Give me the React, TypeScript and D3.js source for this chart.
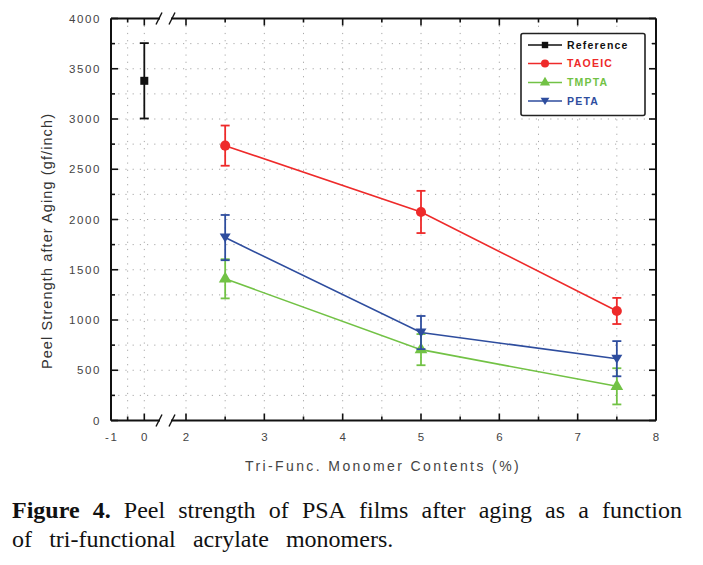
import React, { useEffect, useRef } from "react";
import * as d3 from "d3";

// ---- data ----
const refContents = [0];
const refValues = [3380];
const refErrors = [375];

const contents = [2.5, 5, 7.5];
const taoeicValues = [2735, 2075, 1090];
const taoeicErrors = [200, 210, 130];
const tmptaValues = [1410, 705, 340];
const tmptaErrors = [195, 155, 180];
const petaValues = [1820, 875, 615];
const petaErrors = [225, 165, 175];

const seriesNames = ["Reference", "TAOEIC", "TMPTA", "PETA"];
const seriesColors = ["#111111", "#ee2a2a", "#72c245", "#2e4d9e"];
const seriesSymbols = ["square", "circle", "up", "down"];

const yTicks = [0, 500, 1000, 1500, 2000, 2500, 3000, 3500, 4000];
const yMinorTicks = [250, 750, 1250, 1750, 2250, 2750, 3250, 3750];
const xLeftTicks = [-1, 0];
const xLeftMinor = [-0.5];
const xRightTicks = [2, 3, 4, 5, 6, 7, 8];
const xRightMinor = [2.5, 3.5, 4.5, 5.5, 6.5, 7.5];

const xTitle = "Tri-Func. Monomer Contents (%)";
const yTitle = "Peel Strength after Aging (gf/inch)";
const captionBold = "Figure 4.";
const captionLine1 = "Peel strength of PSA films after aging as a function";
const captionLine2 = "of tri-functional acrylate monomers.";

export default function App() {
  const ref = useRef<SVGSVGElement | null>(null);

  useEffect(() => {
    const svg = d3.select(ref.current);
    svg.selectAll("*").remove();

    const L = 111, R = 656, T = 18.5, B = 420.5;
    const breakL = 160, breakR = 171;
    const xL = d3.scaleLinear().domain([-1, 0]).range([L, 144.3]);
    const xR = d3.scaleLinear().domain([2, 8]).range([186, R]);
    const y = d3.scaleLinear().domain([0, 4000]).range([B, T]);
    const sans = "Liberation Sans, Arial, sans-serif";

    const g = svg.append("g");

    // grid (dotted)
    const grid = g.append("g").attr("stroke", "#a8a8a8").attr("stroke-width", 1).attr("stroke-dasharray", "1.2,6");
    [...yTicks.slice(1, -1), ...yMinorTicks].forEach(v => {
      grid.append("line").attr("x1", L).attr("x2", R).attr("y1", y(v)).attr("y2", y(v));
    });
    [...xLeftMinor, 0].forEach(v => {
      grid.append("line").attr("x1", xL(v)).attr("x2", xL(v)).attr("y1", T).attr("y2", B);
    });
    [2, ...xRightMinor, 3, 4, 5, 6, 7].forEach(v => {
      grid.append("line").attr("x1", xR(v)).attr("x2", xR(v)).attr("y1", T).attr("y2", B);
    });

    // frame
    const frame = g.append("g").attr("stroke", "#111").attr("stroke-width", 2).attr("fill", "none");
    frame.append("line").attr("x1", L).attr("x2", L).attr("y1", T).attr("y2", B);
    frame.append("line").attr("x1", R).attr("x2", R).attr("y1", T).attr("y2", B);
    [T, B].forEach(yy => {
      frame.append("line").attr("x1", L).attr("x2", breakL).attr("y1", yy).attr("y2", yy);
      frame.append("line").attr("x1", breakR).attr("x2", R).attr("y1", yy).attr("y2", yy);
      frame.append("line").attr("x1", breakL - 4).attr("x2", breakL + 2).attr("y1", yy + 6).attr("y2", yy - 6).attr("stroke-width", 1.4);
      frame.append("line").attr("x1", breakR - 2).attr("x2", breakR + 4).attr("y1", yy + 6).attr("y2", yy - 6).attr("stroke-width", 1.4);
    });

    // ticks
    const ticks = g.append("g").attr("stroke", "#111").attr("stroke-width", 1.6);
    yTicks.forEach(v => {
      ticks.append("line").attr("x1", L).attr("x2", L + 7).attr("y1", y(v)).attr("y2", y(v));
      ticks.append("line").attr("x1", R).attr("x2", R - 7).attr("y1", y(v)).attr("y2", y(v));
    });
    yMinorTicks.forEach(v => {
      ticks.append("line").attr("x1", L).attr("x2", L + 4).attr("y1", y(v)).attr("y2", y(v));
      ticks.append("line").attr("x1", R).attr("x2", R - 4).attr("y1", y(v)).attr("y2", y(v));
    });
    const xMaj = [...xLeftTicks.map(v => xL(v)), ...xRightTicks.map(v => xR(v))];
    const xMin = [...xLeftMinor.map(v => xL(v)), ...xRightMinor.map(v => xR(v))];
    xMaj.forEach(px => {
      ticks.append("line").attr("x1", px).attr("x2", px).attr("y1", B).attr("y2", B - 7);
      ticks.append("line").attr("x1", px).attr("x2", px).attr("y1", T).attr("y2", T + 7);
    });
    xMin.forEach(px => {
      ticks.append("line").attr("x1", px).attr("x2", px).attr("y1", B).attr("y2", B - 4);
      ticks.append("line").attr("x1", px).attr("x2", px).attr("y1", T).attr("y2", T + 4);
    });

    // tick labels
    const lab = g.append("g").attr("font-family", sans).attr("font-size", 11.5).attr("fill", "#444").attr("letter-spacing", 1.6);
    yTicks.forEach(v => {
      lab.append("text").attr("x", 101).attr("y", y(v)).attr("dy", "0.35em").attr("text-anchor", "end").text(String(v));
    });
    xLeftTicks.forEach(v => {
      lab.append("text").attr("x", xL(v) + 0.8).attr("y", 441).attr("text-anchor", "middle").text(String(v));
    });
    xRightTicks.forEach(v => {
      lab.append("text").attr("x", xR(v) + 0.8).attr("y", 441).attr("text-anchor", "middle").text(String(v));
    });

    // axis titles
    g.append("text").attr("x", 383).attr("y", 471).attr("text-anchor", "middle").attr("font-family", sans)
      .attr("font-size", 14).attr("letter-spacing", 2.4).attr("fill", "#444").text(xTitle);
    g.append("text").attr("transform", `translate(52,${241}) rotate(-90)`).attr("text-anchor", "middle").attr("font-family", sans)
      .attr("font-size", 14.5).attr("letter-spacing", 1.1).attr("fill", "#333").text(yTitle);

    // marker helper
    const sym = (s: string) => {
      if (s === "square") return d3.symbol().type(d3.symbolSquare).size(64)();
      if (s === "circle") return d3.symbol().type(d3.symbolCircle).size(80)();
      if (s === "up") return d3.symbol().type(d3.symbolTriangle).size(70)();
      return "M-5.5,-4L5.5,-4L0,5Z";
    };

    const allSeries = [
      { xs: refContents, vs: refValues, es: refErrors, sc: xL },
      { xs: contents, vs: taoeicValues, es: taoeicErrors, sc: xR },
      { xs: contents, vs: tmptaValues, es: tmptaErrors, sc: xR },
      { xs: contents, vs: petaValues, es: petaErrors, sc: xR },
    ];

    // draw order: reference, tmpta, peta, taoeic
    [0, 2, 3, 1].forEach(i => {
      const s = allSeries[i];
      const col = seriesColors[i];
      const sg = g.append("g");
      const pts = s.xs.map((xv, k) => [s.sc(xv), y(s.vs[k])] as [number, number]);
      if (pts.length > 1) {
        sg.append("path").attr("d", d3.line()(pts)).attr("fill", "none").attr("stroke", col).attr("stroke-width", 1.6);
      }
      s.xs.forEach((xv, k) => {
        const px = s.sc(xv);
        const top = y(s.vs[k] + s.es[k]);
        const bot = y(s.vs[k] - s.es[k]);
        sg.append("line").attr("x1", px).attr("x2", px).attr("y1", top).attr("y2", bot).attr("stroke", col).attr("stroke-width", 1.8);
        sg.append("line").attr("x1", px - 4.5).attr("x2", px + 4.5).attr("y1", top).attr("y2", top).attr("stroke", col).attr("stroke-width", 1.8);
        sg.append("line").attr("x1", px - 4.5).attr("x2", px + 4.5).attr("y1", bot).attr("y2", bot).attr("stroke", col).attr("stroke-width", 1.8);
        sg.append("path").attr("d", sym(seriesSymbols[i])).attr("transform", `translate(${px},${y(s.vs[k])})`).attr("fill", col);
      });
    });

    // legend
    const lg = g.append("g");
    lg.append("rect").attr("x", 521).attr("y", 33.5).attr("width", 124).attr("height", 82).attr("rx", 2)
      .attr("fill", "#fff").attr("stroke", "#222").attr("stroke-width", 1.6);
    const ly = [45, 63.5, 82.5, 101];
    seriesNames.forEach((name, i) => {
      const col = seriesColors[i];
      lg.append("line").attr("x1", 528).attr("x2", 562).attr("y1", ly[i]).attr("y2", ly[i]).attr("stroke", col).attr("stroke-width", 1.6);
      lg.append("path").attr("d", sym(seriesSymbols[i])).attr("transform", `translate(545,${ly[i]}) scale(0.8)`).attr("fill", col);
      lg.append("text").attr("x", 567).attr("y", ly[i]).attr("dy", "0.36em").attr("font-family", sans)
        .attr("font-size", 10.5).attr("font-weight", "bold").attr("letter-spacing", 1.2).attr("fill", col).text(name);
    });

    // caption
    const serif = "Liberation Serif, Times New Roman, serif";
    const cap = svg.append("g").attr("font-family", serif).attr("font-size", 24).attr("fill", "#111");
    const capL = 12, capR = 682;
    const words1 = [captionBold.split(" ")[0], captionBold.split(" ")[1], ...captionLine1.split(" ")];
    const widths: number[] = [];
    const nodes: SVGTextElement[] = [];
    words1.forEach((w, k) => {
      const t = cap.append("text").attr("y", 518).attr("font-weight", k < 2 ? "bold" : "normal").text(w);
      nodes.push(t.node() as SVGTextElement);
      widths.push((t.node() as SVGTextElement).getComputedTextLength());
    });
    const total = widths.reduce((a, b) => a + b, 0);
    const gap = (capR - capL - total) / (words1.length - 1);
    let cx = capL;
    nodes.forEach((n, k) => {
      d3.select(n).attr("x", cx);
      cx += widths[k] + gap;
    });
    const words2 = captionLine2.split(" ");
    let cx2 = capL;
    words2.forEach(w => {
      const t = cap.append("text").attr("y", 547).attr("x", cx2).text(w);
      cx2 += (t.node() as SVGTextElement).getComputedTextLength() + gap + 4;
    });
  }, []);

  return (
    <svg ref={ref} width={703} height={565} style={{ position: "absolute", left: 0, top: 0, background: "#fff" }} />
  );
}
